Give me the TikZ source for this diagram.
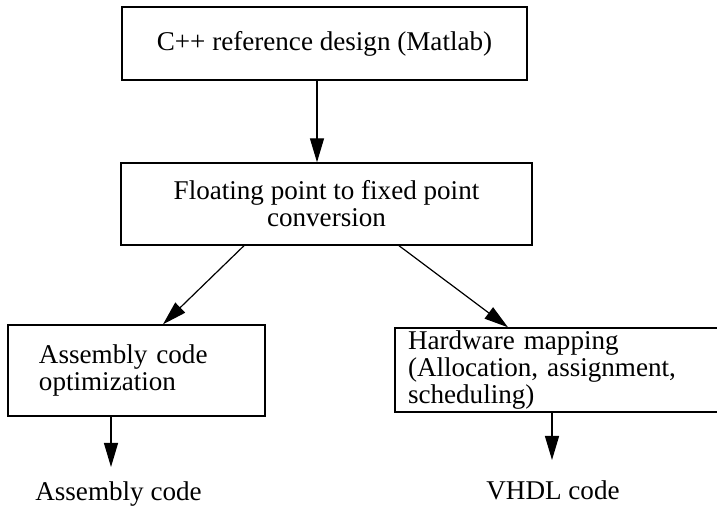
\documentclass[tikz,border=0pt]{standalone}
\usepackage{fontspec}
\setmainfont{Liberation Serif}
\usetikzlibrary{arrows.meta}
\begin{document}
\begin{tikzpicture}[x=0.5bp,y=-0.5bp,>={Triangle[length=12bp,width=7bp]},
	font=\fontsize{13.6}{13.6}\selectfont,
	box/.style={draw,line width=0.7bp,inner ysep=0pt},
	arr/.style={->,line width=0.6bp}]
			\useasboundingbox (0,0) rectangle (717,518);
			\clip (0,0) rectangle (717,518);
			\node[box,minimum width=202.5bp,minimum height=36.5bp] (ref) at (324.5,43.5) {C++ reference design (Matlab)};
			\node[box,minimum width=205.5bp,minimum height=41bp,align=center] (fxp) at (326.5,204) {Floating point to fixed point\\conversion};
			
			\node[box,minimum width=128.5bp,minimum height=45.5bp,inner xsep=15.5bp,text width=97.5bp,align=left] (asmopt) at (136.5,370.5) {Assembly code\\optimization};
			\node[box,minimum width=190bp,minimum height=42bp,inner xsep=6.5bp,text width=177bp,align=left] (hwmap) at (585,370) {Hardware mapping\\(Allocation, assignment,\\scheduling)};
			
			\node[anchor=base] (asmcode) at (118.5,500) {Assembly code};
			\node[anchor=base] (vhdl) at (553,499) {VHDL code};
			
			\coordinate (c1) at (317,0);
			\coordinate (c2) at (244,0);
			\coordinate (c3) at (163,0);
			\coordinate (c4) at (399,0);
			\coordinate (c5) at (508,0);
			\coordinate (asmtip) at (111,467);
			\coordinate (vhdltip) at (552,460);
			
			\draw[arr] (ref.south -| c1)--(fxp.north -| c1);
			\draw[arr] (fxp.south -| c2)--(asmopt.north -| c3);
			\draw[arr] (fxp.south -| c4)--(hwmap.north -| c5);
			\draw[arr] (asmopt.south -| asmtip)--(asmtip);
			\draw[arr] (hwmap.south -| vhdltip)--(vhdltip);
		\end{tikzpicture}
\end{document}
